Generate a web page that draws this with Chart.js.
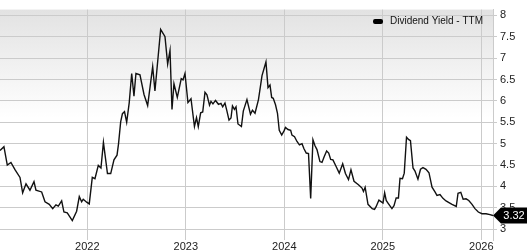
<!DOCTYPE html>
<html lang="en">
<head>
<meta charset="utf-8">
<title>Dividend Yield - TTM</title>
<script src="https://cdn.jsdelivr.net/npm/chart.js@4.4.1/dist/chart.umd.min.js"></script>
<style>
    body { margin: 0; background: #fff; }
    #wrap { width: 527px; height: 250px; position: relative; }
</style>
</head>
<body>
<div id="wrap"><canvas id="yield"></canvas></div>
<script>
// dates as decimal years
const weeks = [
    2021.114, 2021.154, 2021.188, 2021.225, 2021.266, 2021.317, 2021.344, 2021.378, 2021.418, 2021.459,
    2021.479, 2021.537, 2021.571, 2021.614, 2021.649, 2021.682, 2021.706, 2021.740, 2021.763, 2021.797,
    2021.848, 2021.892, 2021.919, 2021.943, 2021.959, 2021.994, 2022.020, 2022.051, 2022.078, 2022.112,
    2022.139, 2022.164, 2022.205, 2022.238, 2022.271, 2022.302, 2022.317, 2022.339, 2022.357, 2022.378,
    2022.400, 2022.426, 2022.451, 2022.474, 2022.494, 2022.535, 2022.576, 2022.613, 2022.664, 2022.687,
    2022.745, 2022.772, 2022.789, 2022.816, 2022.840, 2022.860, 2022.880, 2022.914, 2022.954, 2022.972,
    2022.992, 2023.022, 2023.053, 2023.088, 2023.109, 2023.127, 2023.151, 2023.172, 2023.195, 2023.215,
    2023.241, 2023.256, 2023.276, 2023.302, 2023.332, 2023.357, 2023.375, 2023.398, 2023.418, 2023.439,
    2023.459, 2023.474, 2023.494, 2023.510, 2023.530, 2023.565, 2023.584, 2023.621, 2023.657, 2023.677,
    2023.703, 2023.738, 2023.774, 2023.814, 2023.835, 2023.855, 2023.872, 2023.888, 2023.911, 2023.931,
    2023.949, 2023.974, 2024.000, 2024.012, 2024.038, 2024.065, 2024.078, 2024.104, 2024.129, 2024.154,
    2024.180, 2024.200, 2024.223, 2024.246, 2024.268, 2024.291, 2024.312, 2024.332, 2024.362, 2024.383,
    2024.406, 2024.430, 2024.451, 2024.471, 2024.494, 2024.525, 2024.558, 2024.593, 2024.621, 2024.652,
    2024.677, 2024.708, 2024.753, 2024.789, 2024.804, 2024.821, 2024.850, 2024.893, 2024.916, 2024.931,
    2024.961, 2025.002, 2025.019, 2025.035, 2025.053, 2025.093, 2025.114, 2025.136, 2025.159, 2025.175,
    2025.200, 2025.218, 2025.241, 2025.261, 2025.281, 2025.307, 2025.327, 2025.357, 2025.383, 2025.408,
    2025.439, 2025.469, 2025.500, 2025.530, 2025.550, 2025.581, 2025.611, 2025.642, 2025.672, 2025.703,
    2025.746, 2025.764, 2025.792, 2025.816, 2025.845, 2025.873, 2025.906, 2025.936, 2025.970, 2026.007,
    2026.048, 2026.088, 2026.119
];
const yieldTTM = [
    4.84, 4.93, 4.50, 4.56, 4.39, 4.21, 3.85, 4.06, 3.91, 4.11,
    3.91, 3.87, 3.64, 3.58, 3.48, 3.57, 3.54, 3.66, 3.40, 3.38,
    3.20, 3.42, 3.76, 3.64, 3.70, 3.63, 3.59, 4.21, 4.18, 4.49,
    4.43, 5.03, 4.30, 4.30, 4.62, 4.73, 4.99, 5.51, 5.70, 5.75,
    5.50, 5.96, 6.64, 6.11, 6.64, 6.61, 6.15, 5.89, 6.80, 6.23,
    7.67, 7.57, 7.50, 6.86, 7.18, 5.80, 6.40, 6.08, 6.52, 6.49,
    6.64, 5.96, 6.05, 5.40, 5.61, 5.40, 5.72, 5.74, 6.20, 6.14,
    5.90, 5.99, 5.93, 6.01, 5.92, 5.94, 5.86, 5.95, 5.76, 5.55,
    5.60, 5.88, 5.80, 5.86, 5.46, 5.40, 5.76, 6.03, 5.69, 5.78,
    5.71, 6.03, 6.59, 6.91, 6.31, 6.37, 6.08, 6.06, 5.91, 5.71,
    5.31, 5.20, 5.31, 5.38, 5.33, 5.31, 5.20, 5.16, 5.05, 4.97,
    5.00, 4.88, 4.78, 4.77, 3.72, 5.09, 4.95, 4.86, 4.58, 4.56,
    4.70, 4.83, 4.78, 4.63, 4.62, 4.47, 4.31, 4.53, 4.30, 4.16,
    4.39, 4.12, 4.04, 3.96, 3.88, 3.98, 3.58, 3.48, 3.46, 3.52,
    3.68, 3.61, 3.85, 3.67, 3.61, 3.48, 3.55, 3.73, 3.73, 4.19,
    4.18, 4.31, 5.15, 5.10, 5.07, 4.43, 4.36, 4.17, 4.40, 4.44,
    4.40, 4.32, 3.98, 3.87, 3.79, 3.81, 3.72, 3.66, 3.62, 3.58,
    3.53, 3.84, 3.86, 3.70, 3.71, 3.67, 3.58, 3.48, 3.40, 3.36,
    3.36, 3.34, 3.32
];
const yearTicks = [2022, 2023, 2024, 2025, 2026];
const yTicks = [3, 3.5, 4, 4.5, 5, 5.5, 6, 6.5, 7, 7.5, 8];
const seriesName = 'Dividend Yield - TTM';

const points = weeks.map((w, i) => ({ x: w, y: yieldTTM[i] }));
const gridColor = '#cbcbcb';
const font = { family: 'Liberation Sans, Arial, sans-serif', size: 11 };

// grey fade at the top of the plot
const backdrop = {
    id: 'backdrop',
    beforeDraw(chart) {
        const { ctx, chartArea: a } = chart;
        const g = ctx.createLinearGradient(0, a.top, 0, a.bottom);
        g.addColorStop(0, '#e2e2e2');
        g.addColorStop(0.47, '#ffffff');
        g.addColorStop(1, '#ffffff');
        ctx.save();
        ctx.fillStyle = g;
        ctx.fillRect(a.left, a.top, a.right - a.left, a.bottom - a.top);
        ctx.restore();
    }
};

// small legend in the top right corner of the plot
const cornerLegend = {
    id: 'cornerLegend',
    afterDatasetsDraw(chart) {
        const { ctx, chartArea: a } = chart;
        ctx.save();
        ctx.font = '10px ' + font.family;
        const tw = ctx.measureText(seriesName).width;
        const tx = a.right - 10 - tw;
        const ty = a.top + 12;
        ctx.fillStyle = '#000';
        ctx.beginPath();
        ctx.roundRect(tx - 17, ty - 2.5, 10, 5, 2);
        ctx.fill();
        ctx.fillStyle = '#111';
        ctx.textAlign = 'left';
        ctx.textBaseline = 'middle';
        ctx.fillText(seriesName, tx, ty);
        ctx.restore();
    }
};

// black tag with the last value
const lastTag = {
    id: 'lastTag',
    afterDraw(chart) {
        const { ctx, chartArea: a } = chart;
        const last = yieldTTM[yieldTTM.length - 1];
        const y = chart.scales.y.getPixelForValue(last);
        const x0 = a.right;
        ctx.save();
        ctx.fillStyle = '#000';
        ctx.beginPath();
        ctx.moveTo(x0, y);
        ctx.lineTo(x0 + 8, y - 8);
        ctx.lineTo(chart.width, y - 8);
        ctx.lineTo(chart.width, y + 8);
        ctx.lineTo(x0 + 8, y + 8);
        ctx.closePath();
        ctx.fill();
        ctx.fillStyle = '#fff';
        ctx.font = '11px ' + font.family;
        ctx.textAlign = 'center';
        ctx.textBaseline = 'middle';
        ctx.fillText(last.toFixed(2), (x0 + 8 + chart.width) / 2, y + 1);
        ctx.restore();
    }
};

new Chart(document.getElementById('yield'), {
    type: 'line',
    data: {
        datasets: [{
            label: seriesName,
            data: points,
            borderColor: '#111',
            borderWidth: 1.4,
            pointRadius: 0,
            tension: 0
        }]
    },
    options: {
        responsive: true,
        maintainAspectRatio: false,
        animation: false,
        layout: { padding: 0 },
        plugins: {
            tooltip: { enabled: false },
            legend: { display: false }
        },
        scales: {
            x: {
                type: 'linear',
                min: weeks[0],
                max: weeks[weeks.length - 1],
                afterBuildTicks: (s) => { s.ticks = yearTicks.map(v => ({ value: v })); },
                afterFit: (s) => { s.height = 10; },
                grid: { color: gridColor, drawTicks: false },
                border: { display: false },
                ticks: {
                    font: font,
                    color: '#222',
                    padding: 0,
                    maxRotation: 0,
                    callback: (v) => String(v)
                }
            },
            y: {
                position: 'right',
                min: 2.746,
                max: 8.135,
                afterBuildTicks: (s) => { s.ticks = yTicks.map(v => ({ value: v })); },
                afterFit: (s) => { s.width = 34; },
                grid: { color: gridColor, tickLength: 4 },
                border: { color: gridColor },
                ticks: {
                    font: font,
                    color: '#222',
                    padding: 3,
                    callback: (v) => String(v)
                }
            }
        }
    },
    plugins: [backdrop, cornerLegend, lastTag]
});
</script>
</body>
</html>
